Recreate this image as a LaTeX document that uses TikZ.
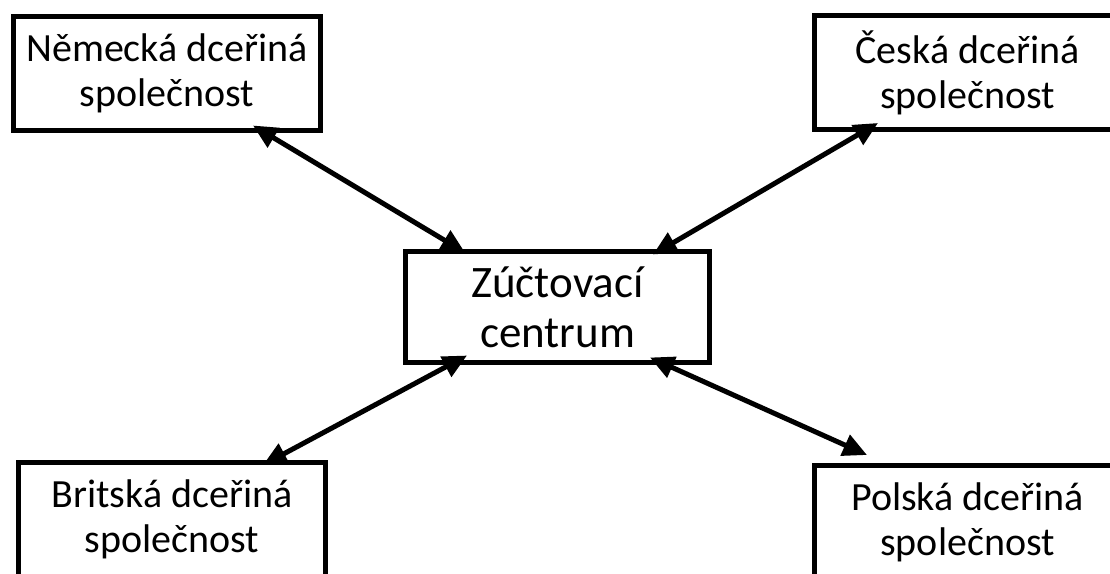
\documentclass[tikz,border=0pt]{standalone}
\usepackage{fontspec}
\setmainfont{Carlito}
\usepackage{tikz}
\usetikzlibrary{arrows.meta,positioning}
\tikzstyle{filial} = [draw=black, line width=5pt, rectangle, minimum width=307pt, minimum height=114pt, inner sep=0pt, align=center, font=\fontsize{40}{45}\selectfont]
\tikzstyle{centrum} = [filial, minimum width=304pt, minimum height=111pt, font=\fontsize{45}{50}\selectfont]
\tikzstyle{spoj} = [line width=5pt, {Triangle[length=24pt,width=22pt]}-{Triangle[length=24pt,width=22pt]}]

\begin{document}
\begin{tikzpicture}[x=1pt,y=-1pt]
	\useasboundingbox (0,0) rectangle (1110,573);
	\clip (0,0) rectangle (1110,573);
	% centre and the four subsidiaries
	\node [centrum] (zuct) at (557.5,307) {Zúčtovací\\centrum};
	\node [filial] (nem) at (167,73.5) {Německá dceřiná\\společnost};
	\node [filial] (ces) at (967.5,72.5) {Česká dceřiná\\společnost};
	\node [filial] (brit) at (172,519) {Britská dceřiná\\společnost};
	\node [filial] (pol) at (967.5,522) {Polská dceřiná\\společnost};
	% links
	\draw [spoj] ([xshift=86pt,yshift=7.5pt]nem.south) -- ([xshift=-92.5pt,yshift=-3.5pt]zuct.north);
	\draw [spoj] ([xshift=-89.5pt,yshift=9pt]ces.south) -- ([xshift=95.5pt,yshift=-5.5pt]zuct.north);
	\draw [spoj] ([xshift=91pt,yshift=-5.5pt]brit.north) -- ([xshift=-90.5pt,yshift=9.5pt]zuct.south);
	\draw [spoj] ([xshift=-100.5pt,yshift=7.5pt]pol.north) -- ([xshift=92.5pt,yshift=7.5pt]zuct.south);
\end{tikzpicture}
\end{document}
